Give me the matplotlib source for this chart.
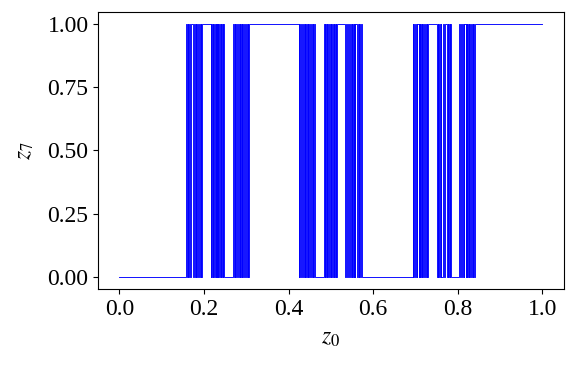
import numpy as np
import matplotlib
matplotlib.use("Agg")
import matplotlib.pyplot as plt

plt.rcParams['font.family'] = ['Liberation Serif', 'DejaVu Serif']
plt.rcParams['mathtext.fontset'] = 'stix'
plt.rcParams['font.size'] = 17

# z0 positions where z7 switches between ~0 and ~1
edges_band1 = [
    0.1570, 0.1591, 0.1612, 0.1632, 0.1653, 0.1674, 0.1695,
    0.1727, 0.1732, 0.1748, 0.1765, 0.1782, 0.1798, 0.1803,
    0.1835, 0.1856, 0.1877, 0.1897, 0.1918, 0.1939, 0.1960,
    0.2160, 0.2176, 0.2192, 0.2208, 0.2223, 0.2239, 0.2255,
    0.2287, 0.2292, 0.2302, 0.2315, 0.2328, 0.2338, 0.2343,
    0.2375, 0.2391, 0.2407, 0.2423, 0.2438, 0.2454, 0.2470,
    0.2680, 0.2701, 0.2722, 0.2742, 0.2763, 0.2784, 0.2805,
    0.2837, 0.2842, 0.2858, 0.2875, 0.2892, 0.2908, 0.2913,
    0.2945, 0.2966, 0.2987, 0.3007, 0.3028, 0.3049, 0.3070,
]
edges_band2 = [
    0.4235, 0.4256, 0.4277, 0.4299, 0.4320, 0.4341, 0.4362,
    0.4394, 0.4399, 0.4416, 0.4433, 0.4449, 0.4466, 0.4471,
    0.4503, 0.4524, 0.4545, 0.4567, 0.4588, 0.4609, 0.4630,
    0.4840, 0.4855, 0.4871, 0.4886, 0.4901, 0.4917, 0.4932,
    0.4964, 0.4969, 0.4977, 0.4990, 0.5003, 0.5011, 0.5016,
    0.5048, 0.5063, 0.5079, 0.5094, 0.5109, 0.5125, 0.5140,
    0.5340, 0.5361, 0.5383, 0.5404, 0.5425, 0.5447, 0.5468,
    0.5500, 0.5505, 0.5523, 0.5540, 0.5557, 0.5575, 0.5580,
    0.5612, 0.5633, 0.5655, 0.5676, 0.5697, 0.5719, 0.5740,
]
edges_band3 = [
    0.6930, 0.6950, 0.6969, 0.6989, 0.7008, 0.7028, 0.7047,
    0.7079, 0.7085, 0.7099, 0.7115, 0.7131, 0.7145, 0.7151,
    0.7183, 0.7203, 0.7222, 0.7242, 0.7261, 0.7281, 0.7300,
    0.7510, 0.7527, 0.7543, 0.7560, 0.7577, 0.7593, 0.7610,
    0.7642, 0.7648, 0.7660, 0.7675, 0.7690, 0.7703, 0.7708,
    0.7740, 0.7757, 0.7773, 0.7790, 0.7807, 0.7823, 0.7840,
    0.8040, 0.8060, 0.8079, 0.8099, 0.8118, 0.8138, 0.8157,
    0.8189, 0.8195, 0.8209, 0.8225, 0.8241, 0.8255, 0.8261,
    0.8293, 0.8313, 0.8332, 0.8352, 0.8371, 0.8391, 0.8410,
]
z7_low = 0.0
z7_high = 1.0

edges = edges_band1 + edges_band2 + edges_band3
# level flips at every edge, starting low at z0 = 0
levels = [z7_high if i % 2 == 0 else z7_low for i in range(len(edges))]
z0 = [0.0] + edges + [1.0]
z7 = [z7_low] + levels + [levels[-1]]

fig, ax = plt.subplots(figsize=(5.75, 3.67), dpi=100)
fig.subplots_adjust(left=0.171, right=0.980, top=0.968, bottom=0.212)
ax.plot(z0, z7, color='blue', linewidth=0.65, drawstyle='steps-post')
ax.set_yticks([0.0, 0.25, 0.5, 0.75, 1.0])
ax.set_xticks([0.0, 0.2, 0.4, 0.6, 0.8, 1.0])
ax.set_xlabel(r'$z_0$', labelpad=6)
ax.set_ylabel(r'$z_7$', labelpad=8)
fig.savefig('out.png')
